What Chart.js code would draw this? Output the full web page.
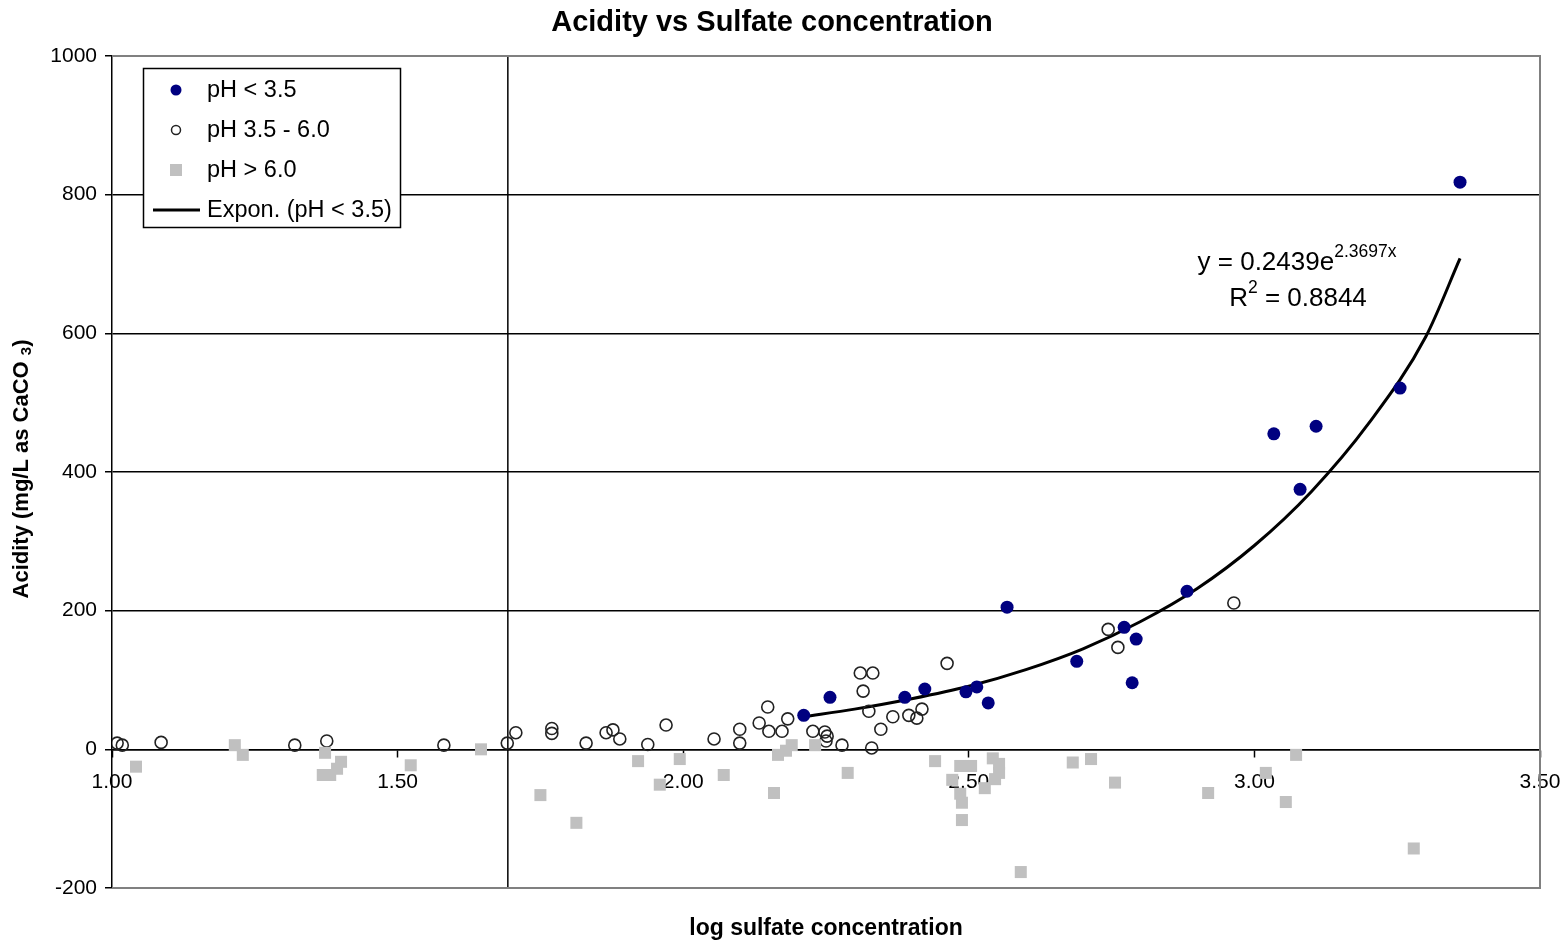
<!DOCTYPE html>
<html lang="en">

<head>
  <meta charset="UTF-8">
  <title>Acidity vs Sulfate concentration</title>
  <style>
    body {
      margin: 0;
      background: #ffffff;
    }

    canvas {
      display: block;
    }
  </style>
</head>

<body>
  <canvas id="acidityChart" width="1568" height="943"></canvas>

  <script src="https://cdn.jsdelivr.net/npm/chart.js"></script>
  <script>
    // pH < 3.5 (filled navy dots)
    const lowPhX = [2.211, 2.257, 2.388, 2.423, 2.495, 2.514, 2.534, 2.567, 2.689, 2.772, 2.793, 2.786, 2.882, 3.034, 3.108, 3.080, 3.255, 3.360];
    const lowPhY = [49, 75, 75, 87, 83, 90, 67, 205, 127, 176, 159, 96, 228, 455, 466, 375, 521, 818];

    // pH 3.5 - 6.0 (open circles)
    const midPhX = [1.009, 1.018, 1.086, 1.320, 1.376, 1.581, 1.692, 1.707, 1.770, 1.770, 1.830, 1.865, 1.877, 1.889, 1.938, 1.970,
      2.054, 2.099, 2.099, 2.133, 2.148, 2.150, 2.173, 2.183, 2.227, 2.248, 2.252, 2.250, 2.278, 2.310, 2.332, 2.315, 2.325,
      2.346, 2.367, 2.395, 2.409, 2.418, 2.462, 2.330, 2.744, 2.761, 2.964];
    const midPhY = [9, 6, 10, 6, 12, 6, 9, 24, 30, 23, 9, 24, 28, 15, 7, 35,
      15, 29, 9, 38, 61, 26, 26, 44, 26, 25, 19, 12, 6, 110, 110, 84, 55,
      29, 47, 49, 45, 58, 124, 2, 173, 147, 211];

    // pH > 6.0 (grey squares)
    const highPhX = [1.042, 1.215, 1.229, 1.373, 1.369, 1.382, 1.394, 1.401, 1.523, 1.646, 1.750, 1.813, 1.921, 1.959, 1.994,
      2.071, 2.159, 2.166, 2.180, 2.190, 2.231, 2.288, 2.441, 2.485, 2.504, 2.471, 2.485, 2.488, 2.488, 2.542, 2.553, 2.553,
      2.546, 2.528, 2.591, 2.682, 2.714, 2.756, 2.919, 3.020, 3.073, 3.055, 3.279];
    const highPhY = [-25, 6, -8, -5, -37, -37, -28, -18, -23, 0, -66, -106, -17, -51, -14,
      -37, -63, -8, -2, 6, 6, -34, -17, -24, -24, -44, -64, -77, -102, -13, -21, -34,
      -43, -56, -177, -19, -14, -48, -63, -34, -8, -76, -143];

    // exponential trendline
    const trendX = [2.211, 2.3, 2.4, 2.5, 2.6, 2.7, 2.8, 2.9, 3.0, 3.1, 3.2, 3.3, 3.36];
    const trendY = [47, 58, 73, 91, 115, 145, 184, 232, 294, 372, 470, 595, 708];

    // vertical reference line
    const refLineX = [1.693, 1.693];
    const refLineY = [-200, 1000];

    const xTicks = [1.0, 1.5, 2.0, 2.5, 3.0, 3.5];
    const yTicks = [-200, 0, 200, 400, 600, 800, 1000];

    const seriesNames = ['pH < 3.5', 'pH 3.5 - 6.0', 'pH > 6.0', 'Expon. (pH < 3.5)'];
    const titleText = 'Acidity vs Sulfate concentration';
    const xTitle = 'log sulfate concentration';
    const eqMain = 'y = 0.2439e';
    const eqExp = '2.3697x';
    const r2Value = ' = 0.8844';

    const FONT = '"Liberation Sans", Arial, sans-serif';
    const pts = (xs, ys) => xs.map((v, i) => ({ x: v, y: ys[i] }));

    // texts, frame, legend and equation
    const overlay = {
      id: 'overlay',
      afterDraw(chart) {
        const { ctx, chartArea: a } = chart;
        ctx.save();

        // grey frame on top / right / bottom
        ctx.strokeStyle = '#808080';
        ctx.lineWidth = 2;
        ctx.beginPath();
        ctx.moveTo(a.left, a.top);
        ctx.lineTo(a.right, a.top);
        ctx.lineTo(a.right, a.bottom);
        ctx.lineTo(a.left, a.bottom);
        ctx.stroke();

        ctx.fillStyle = '#000';
        ctx.textBaseline = 'middle';
        ctx.textAlign = 'center';
        ctx.font = 'bold 29px ' + FONT;
        ctx.fillText(titleText, 772, 23);
        ctx.font = 'bold 23px ' + FONT;
        ctx.fillText(xTitle, (a.left + a.right) / 2, 929);

        // y title with subscript
        ctx.save();
        ctx.translate(22, 469);
        ctx.rotate(-Math.PI / 2);
        const p1 = 'Acidity (mg/L as CaCO ';
        const p2 = '3';
        const p3 = ')';
        ctx.font = 'bold 22px ' + FONT;
        const w1 = ctx.measureText(p1).width;
        const w3 = ctx.measureText(p3).width;
        ctx.font = 'bold 15px ' + FONT;
        const w2 = ctx.measureText(p2).width;
        let sx = -(w1 + w2 + w3) / 2;
        ctx.textAlign = 'left';
        ctx.font = 'bold 22px ' + FONT;
        ctx.fillText(p1, sx, 0);
        ctx.font = 'bold 15px ' + FONT;
        ctx.fillText(p2, sx + w1, 5);
        ctx.font = 'bold 22px ' + FONT;
        ctx.fillText(p3, sx + w1 + w2, 0);
        ctx.restore();

        // trendline equation
        ctx.textAlign = 'left';
        ctx.font = '26px ' + FONT;
        const m1 = ctx.measureText(eqMain).width;
        ctx.font = '17.5px ' + FONT;
        const m2 = ctx.measureText(eqExp).width;
        let ex = 1297 - (m1 + m2) / 2;
        ctx.font = '26px ' + FONT;
        ctx.fillText(eqMain, ex, 263);
        ctx.font = '17.5px ' + FONT;
        ctx.fillText(eqExp, ex + m1, 252);
        ctx.font = '26px ' + FONT;
        const r1 = ctx.measureText('R').width;
        const r3 = ctx.measureText(r2Value).width;
        ctx.font = '17.5px ' + FONT;
        const r2 = ctx.measureText('2').width;
        let rx = 1298 - (r1 + r2 + r3) / 2;
        ctx.font = '26px ' + FONT;
        ctx.fillText('R', rx, 299);
        ctx.fillText(r2Value, rx + r1 + r2, 299);
        ctx.font = '17.5px ' + FONT;
        ctx.fillText('2', rx + r1, 288);

        // legend box
        ctx.fillStyle = '#fff';
        ctx.fillRect(143, 68, 257, 159);
        ctx.strokeStyle = '#000';
        ctx.lineWidth = 1.5;
        ctx.strokeRect(143.5, 68.5, 257, 159);
        const rows = [90, 130, 170, 210];
        ctx.font = '23.5px ' + FONT;
        ctx.fillStyle = '#000';
        seriesNames.forEach((name, i) => ctx.fillText(name, 207, rows[i] + 1));
        ctx.fillStyle = '#000080';
        ctx.beginPath();
        ctx.arc(176, rows[0], 5.5, 0, Math.PI * 2);
        ctx.fill();
        ctx.strokeStyle = '#222';
        ctx.lineWidth = 1.5;
        ctx.beginPath();
        ctx.arc(176, rows[1], 4.5, 0, Math.PI * 2);
        ctx.stroke();
        ctx.fillStyle = '#C0C0C0';
        ctx.fillRect(170, rows[2] - 6, 12, 12);
        ctx.strokeStyle = '#000';
        ctx.lineWidth = 3;
        ctx.beginPath();
        ctx.moveTo(153, rows[3]);
        ctx.lineTo(200, rows[3]);
        ctx.stroke();

        ctx.restore();
      }
    };

    const ctx = document.getElementById('acidityChart').getContext('2d');
    new Chart(ctx, {
      type: 'scatter',
      data: {
        datasets: [{
          label: seriesNames[2],
          data: pts(highPhX, highPhY),
          pointStyle: 'rect',
          pointRadius: 8.5,
          backgroundColor: '#C0C0C0',
          borderWidth: 0
        }, {
          label: seriesNames[1],
          data: pts(midPhX, midPhY),
          pointStyle: 'circle',
          pointRadius: 6,
          backgroundColor: 'rgba(0,0,0,0)',
          borderColor: '#222',
          borderWidth: 1.6
        }, {
          label: seriesNames[0],
          data: pts(lowPhX, lowPhY),
          pointStyle: 'circle',
          pointRadius: 6.5,
          backgroundColor: '#000080',
          borderColor: '#000080',
          borderWidth: 0
        }, {
          label: 'ref',
          type: 'line',
          data: pts(refLineX, refLineY),
          borderColor: '#000',
          borderWidth: 1.5,
          pointRadius: 0
        }, {
          label: seriesNames[3],
          type: 'line',
          data: pts(trendX, trendY),
          borderColor: '#000',
          borderWidth: 3,
          pointRadius: 0,
          cubicInterpolationMode: 'monotone'
        }]
      },
      options: {
        responsive: false,
        animation: false,
        layout: {
          autoPadding: false,
          padding: { left: 0, right: 28, top: 56, bottom: 55 }
        },
        scales: {
          x: {
            type: 'linear',
            min: 1,
            max: 3.5,
            position: { y: 0 },
            afterFit: scale => { scale.paddingLeft = 0; scale.paddingRight = 0; },
            afterBuildTicks: scale => { scale.ticks = xTicks.map(v => ({ value: v })); },
            ticks: {
              color: '#000',
              font: { size: 21, family: FONT },
              padding: 13,
              maxRotation: 0,
              callback: v => v.toFixed(2)
            },
            grid: {
              drawOnChartArea: false,
              tickLength: 7,
              tickColor: '#000',
              tickWidth: 1.5
            },
            border: { color: '#000', width: 1.5 }
          },
          y: {
            min: -200,
            max: 1000,
            afterFit: scale => { scale.width = 112; scale.paddingTop = 0; scale.paddingBottom = 0; },
            afterBuildTicks: scale => { scale.ticks = yTicks.map(v => ({ value: v })); },
            ticks: {
              color: '#000',
              font: { size: 21, family: FONT },
              padding: 8,
              callback: v => String(v)
            },
            grid: {
              color: c => (c.tick && (c.tick.value === 1000 || c.tick.value === -200)) ? '#808080' : '#000',
              lineWidth: 1.5,
              tickLength: 7,
              tickColor: '#000'
            },
            border: { color: '#000', width: 1.5 }
          }
        },
        plugins: {
          legend: { display: false },
          tooltip: { enabled: false }
        }
      },
      plugins: [overlay]
    });
  </script>
</body>

</html>
